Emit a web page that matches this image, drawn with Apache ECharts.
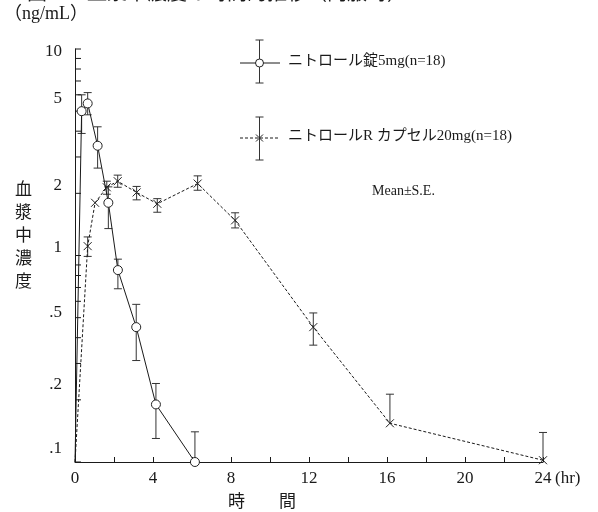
<!DOCTYPE html>
<html>
<head>
<meta charset="utf-8">
<script src="https://cdn.jsdelivr.net/npm/echarts@6/dist/echarts.min.js"></script>
<style>
  html, body { margin: 0; padding: 0; background: #fff; }
  #chart { width: 598px; height: 512px; }
</style>
</head>
<body>
<div id="chart"></div>
<script>
// ニトロール錠5mg (n=18)
const tabTime = [0, 0.34, 0.65, 1.16, 1.71, 2.2, 3.14, 4.15, 6.15];
const tabMean = [0.1, 5.0, 5.45, 3.4, 1.8, 0.85, 0.45, 0.19, 0.1];
const tabLow  = [null, 3.9, 4.8, 2.65, 1.35, 0.69, 0.31, 0.13, 0.1];
const tabHigh = [null, 6.0, 6.15, 4.2, 2.15, 0.96, 0.58, 0.24, 0.14];

// ニトロールR カプセル20mg (n=18)
const capTime = [0, 0.65, 1.03, 1.63, 2.19, 3.16, 4.22, 6.29, 8.21, 12.22, 16.15, 24];
const capMean = [0.1, 1.11, 1.8, 2.14, 2.29, 2.02, 1.78, 2.23, 1.48, 0.45, 0.154, 0.102];
const capLow  = [null, 0.99, null, 1.98, 2.14, 1.86, 1.62, 2.07, 1.36, 0.368, 0.154, 0.102];
const capHigh = [null, 1.23, null, 2.29, 2.45, 2.16, 1.885, 2.43, 1.61, 0.527, 0.213, 0.139];

// log axis ticks / labels
const yTickValues = [0.1, 0.2, 0.3, 0.4, 0.5, 0.6, 0.7, 0.8, 0.9, 1, 2, 3, 4, 5, 6, 7, 8, 9, 10];
const yLabelValues = [0.1, 0.2, 0.5, 1, 2, 5, 10];
const yLabelText = ['.1', '.2', '.5', '1', '2', '5', '10'];

const seriesNames = ['ニトロール錠5mg(n=18)', 'ニトロールR カプセル20mg(n=18)'];

const ink = '#1a1a1a';
const serif = '"Liberation Serif", "Noto Sans CJK JP", serif';
const jp = '"Liberation Serif", "Noto Sans CJK JP", sans-serif';
const crossPath = 'path://M0,0L10,10M10,0L0,10';

// label nudges (the original labels sit a little off their ticks)
const yLabelNudge = { 10: 3, 5: -13, 2: -8, 1: -8, 0.5: -5, 0.2: -15, 0.1: -13 };

const chart = echarts.init(document.getElementById('chart'), null, { renderer: 'canvas' });

const lineData = (ts, ms) => ts.map((t, i) => (
  t === 0 ? { value: [t, ms[i]], symbol: 'none' } : [t, ms[i]]
));

const barData = (ts, ms, lo, hi) => ts
  .map((t, i) => [t, ms[i], lo[i], hi[i]])
  .filter(r => r[2] != null && r[3] != null && r[3] > r[2]);

const renderErrorBar = (params, api) => {
  const t = api.value(0), m = api.value(1), lo = api.value(2), hi = api.value(3);
  const top = api.coord([t, hi]);
  const bot = api.coord([t, lo]);
  const cap = 4;
  const style = { stroke: '#333', lineWidth: 1 };
  const children = [
    { type: 'line', shape: { x1: top[0], y1: top[1], x2: bot[0], y2: bot[1] }, style },
    { type: 'line', shape: { x1: top[0] - cap, y1: top[1], x2: top[0] + cap, y2: top[1] }, style }
  ];
  if (lo < m) {
    children.push({ type: 'line', shape: { x1: bot[0] - cap, y1: bot[1], x2: bot[0] + cap, y2: bot[1] }, style });
  }
  return { type: 'group', children };
};

const option = {
  animation: false,
  backgroundColor: '#fff',
  grid: { left: 75, right: 55, top: 49, bottom: 50 },
  xAxis: {
    type: 'value',
    min: 0,
    max: 24,
    interval: 2,
    axisLine: { lineStyle: { color: ink, width: 1 } },
    axisTick: { inside: true, length: 5, lineStyle: { color: ink } },
    axisLabel: {
      margin: 8,
      color: ink,
      fontFamily: serif,
      fontSize: 17,
      formatter: v => (v % 4 === 0 ? String(v) : '')
    },
    splitLine: { show: false }
  },
  yAxis: {
    type: 'log',
    logBase: 10,
    min: 0.1,
    max: 10,
    axisLine: { show: true, lineStyle: { color: ink, width: 1 } },
    axisTick: { show: false },
    axisLabel: { show: false },
    splitLine: { show: false }
  },
  series: [
    {
      // minor + major ticks of the log axis
      type: 'custom',
      silent: true,
      data: yTickValues.map(v => [0, v]),
      renderItem: (params, api) => {
        const p = api.coord([0, api.value(1)]);
        return { type: 'line', shape: { x1: p[0], y1: p[1], x2: p[0] + 6, y2: p[1] }, style: { stroke: ink, lineWidth: 1 } };
      }
    },
    {
      type: 'custom',
      silent: true,
      data: yLabelValues.map((v, i) => [0, v, i]),
      renderItem: (params, api) => {
        const v = api.value(1);
        const p = api.coord([0, v]);
        return {
          type: 'text',
          style: {
            text: yLabelText[api.value(2)],
            x: p[0] - 13,
            y: p[1] + (yLabelNudge[v] || 0),
            align: 'right',
            verticalAlign: 'middle',
            fill: ink,
            font: '17px ' + serif
          }
        };
      }
    },
    {
      type: 'custom',
      name: seriesNames[0] + ' SE',
      silent: true,
      z: 1,
      data: barData(tabTime, tabMean, tabLow, tabHigh),
      renderItem: renderErrorBar
    },
    {
      type: 'custom',
      name: seriesNames[1] + ' SE',
      silent: true,
      z: 1,
      data: barData(capTime, capMean, capLow, capHigh),
      renderItem: renderErrorBar
    },
    {
      name: seriesNames[1],
      type: 'line',
      z: 3,
      data: lineData(capTime, capMean),
      symbol: crossPath,
      symbolSize: 8,
      itemStyle: { color: 'rgba(0,0,0,0)', borderColor: '#222', borderWidth: 1 },
      lineStyle: { color: ink, width: 1, type: [3, 2] }
    },
    {
      name: seriesNames[0],
      type: 'line',
      z: 4,
      data: lineData(tabTime, tabMean),
      symbol: 'circle',
      symbolSize: 9,
      itemStyle: { color: '#fff', borderColor: '#222', borderWidth: 1 },
      lineStyle: { color: ink, width: 1 }
    }
  ],
  graphic: [
    // cut-off caption line at the very top
    { type: 'text', left: 27, top: -15, style: { text: '図２　血漿中濃度の時間的推移（内服時）', fill: ink, font: '20px ' + jp } },
    { type: 'text', left: 4, top: 5, style: { text: '（ng/mL）', fill: ink, font: '18px ' + jp } },
    { type: 'text', left: 15, top: 179, style: { text: '血\n漿\n中\n濃\n度', fill: ink, font: '17px ' + jp, lineHeight: 23 } },
    { type: 'text', left: 228, top: 494, style: { text: '時　　間', fill: ink, font: '17px ' + jp } },
    { type: 'text', left: 555, top: 470, style: { text: '(hr)', fill: ink, font: '17px ' + serif } },

    // legend: tablet
    { type: 'line', shape: { x1: 240, y1: 63, x2: 280, y2: 63 }, style: { stroke: ink, lineWidth: 1 } },
    { type: 'line', shape: { x1: 259.5, y1: 40, x2: 259.5, y2: 83 }, style: { stroke: '#333', lineWidth: 1 } },
    { type: 'line', shape: { x1: 255.5, y1: 40, x2: 263.5, y2: 40 }, style: { stroke: '#333', lineWidth: 1 } },
    { type: 'line', shape: { x1: 255.5, y1: 83, x2: 263.5, y2: 83 }, style: { stroke: '#333', lineWidth: 1 } },
    { type: 'circle', shape: { cx: 259.5, cy: 63, r: 4 }, style: { fill: '#fff', stroke: '#222', lineWidth: 1 } },
    { type: 'text', left: 288, top: 54, style: { text: seriesNames[0], fill: ink, font: '15px ' + jp } },

    // legend: capsule
    { type: 'line', shape: { x1: 240, y1: 138, x2: 280, y2: 138 }, style: { stroke: ink, lineWidth: 1, lineDash: [3, 2] } },
    { type: 'line', shape: { x1: 259.5, y1: 117, x2: 259.5, y2: 160 }, style: { stroke: '#333', lineWidth: 1 } },
    { type: 'line', shape: { x1: 255.5, y1: 117, x2: 263.5, y2: 117 }, style: { stroke: '#333', lineWidth: 1 } },
    { type: 'line', shape: { x1: 255.5, y1: 160, x2: 263.5, y2: 160 }, style: { stroke: '#333', lineWidth: 1 } },
    { type: 'line', shape: { x1: 256, y1: 134.5, x2: 263, y2: 141.5 }, style: { stroke: '#222', lineWidth: 1 } },
    { type: 'line', shape: { x1: 263, y1: 134.5, x2: 256, y2: 141.5 }, style: { stroke: '#222', lineWidth: 1 } },
    { type: 'text', left: 288, top: 129, style: { text: seriesNames[1], fill: ink, font: '15px ' + jp } },

    { type: 'text', left: 372, top: 184, style: { text: 'Mean±S.E.', fill: ink, font: '14px ' + serif } }
  ]
};

chart.setOption(option);
</script>
</body>
</html>
